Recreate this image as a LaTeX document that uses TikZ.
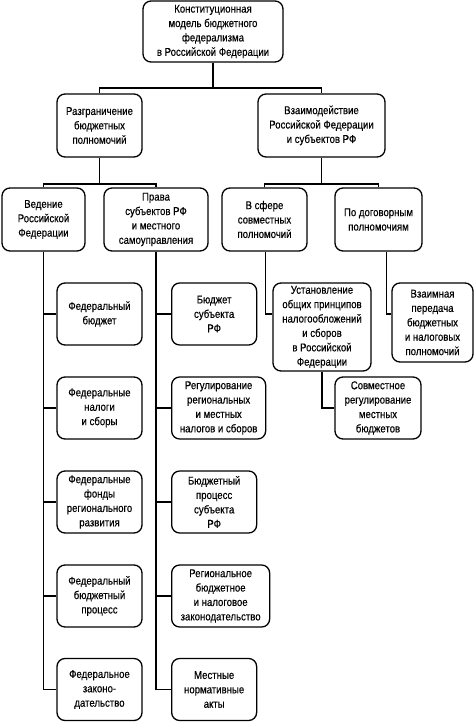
\documentclass[tikz,border=0pt]{standalone}
\usepackage{fontspec}
\setmainfont{Liberation Sans}[FakeStretch=0.85,FakeBold=0.35]

\tikzset{
  blk/.style={draw,line width=1.3pt,rounded corners=8pt,align=center,
    inner sep=1pt,minimum height=62pt,
    font=\fontsize{11.3}{14.4}\selectfont},
  link/.style={line width=1.3pt}
}

\begin{document}
\begin{tikzpicture}[x=1pt,y=-1pt]

\useasboundingbox (0,0) rectangle (474,722);

% top level
\node[blk,minimum width=140pt,minimum height=61pt] (top) at (213,31.5)
  {Конституционная\\модель бюджетного\\федерализма\\в Российской Федерации};

\node[blk,minimum width=85pt,minimum height=63pt]  (razgr) at (99.5,125.5)
  {Разграничение\\бюджетных\\полномочий};
\node[blk,minimum width=127pt,minimum height=63pt] (vzaim) at (321.5,125.5)
  {Взаимодействие\\Российской Федерации\\и субъектов РФ};

% third level
\node[blk,minimum width=83pt,minimum height=63pt]  (veden)  at (43.5,219.5)
  {Ведение\\Российской\\Федерации};
\node[blk,minimum width=104pt,minimum height=63pt] (prava)  at (156,219.5)
  {Права\\субъектов РФ\\и местного\\самоуправления};
\node[blk,minimum width=85pt,minimum height=63pt]  (vsfere) at (264.5,219.5)
  {В сфере\\совместных\\полномочий};
\node[blk,minimum width=87pt,minimum height=63pt]  (podog)  at (378.5,219.5)
  {По договорным\\полномочиям};

% federal column
\node[blk,minimum width=85pt] (fb) at (99.5,314) {Федеральный\\бюджет};
\node[blk,minimum width=85pt] (fn) at (99.5,408) {Федеральные\\налоги\\и сборы};
\node[blk,minimum width=85pt] (ff) at (99.5,502) {Федеральные\\фонды\\регионального\\развития};
\node[blk,minimum width=85pt] (fp) at (99.5,596) {Федеральный\\бюджетный\\процесс};
\node[blk,minimum width=85pt] (fz) at (99.5,689.5) {Федеральное\\законо-\\дательство};

% regional column
\node[blk,anchor=west,minimum width=85pt] (sb) at (171,314) {Бюджет\\субъекта\\РФ};
\node[blk,anchor=west,minimum width=94pt] (rn) at (171,408) {Регулирование\\региональных\\и местных\\налогов и сборов};
\node[blk,anchor=west,minimum width=85pt] (bp) at (171,502) {Бюджетный\\процесс\\субъекта\\РФ};
\node[blk,anchor=west,minimum width=98pt] (rz) at (171,596) {Региональное\\бюджетное\\и налоговое\\законодательство};
\node[blk,anchor=west,minimum width=85pt] (mn) at (171,689.5) {Местные\\нормативные\\акты};

% joint powers
\node[blk,minimum width=98pt,minimum height=88pt] (ustan) at (322,327)
  {Установление\\общих принципов\\налогообложений\\и сборов\\в Российской\\Федерации};
\node[blk,minimum width=86pt] (sovm) at (378,408)
  {Совместное\\регулирование\\местных\\бюджетов};
\node[blk,minimum width=81pt,minimum height=79pt] (vzp) at (432.5,322.5)
  {Взаимная\\передача\\бюджетных\\и налоговых\\полномочий};

% connectors
\coordinate (j0) at (213,88);
\coordinate (j1) at (99.5,184);
\coordinate (j2) at (321.5,184);

\draw[link] (top.south) -- (j0);
\draw[link] (razgr.north) |- (j0) -| (vzaim.north);
\draw[link] (razgr.south) -- (j1);
\draw[link] (veden.north) |- (j1) -| (prava.north);
\draw[link] (vzaim.south) -- (j2);
\draw[link] (vsfere.north) |- (j2) -| (podog.north);

\foreach \n in {fb,fn,ff,fp,fz} {
  \draw[link] (veden.south) |- (\n.west);
}
\foreach \n in {sb,rn,bp,rz,mn} {
  \draw[link] (prava.south) |- (\n.west);
}

\draw[link] ([xshift=1pt]vsfere.south) |- (ustan.west |- fb.west);
\draw[link] ([xshift=8pt]podog.south) |- (vzp.west |- fb.west);
\draw[link] (ustan.south) |- (sovm.west);

\end{tikzpicture}
\end{document}
